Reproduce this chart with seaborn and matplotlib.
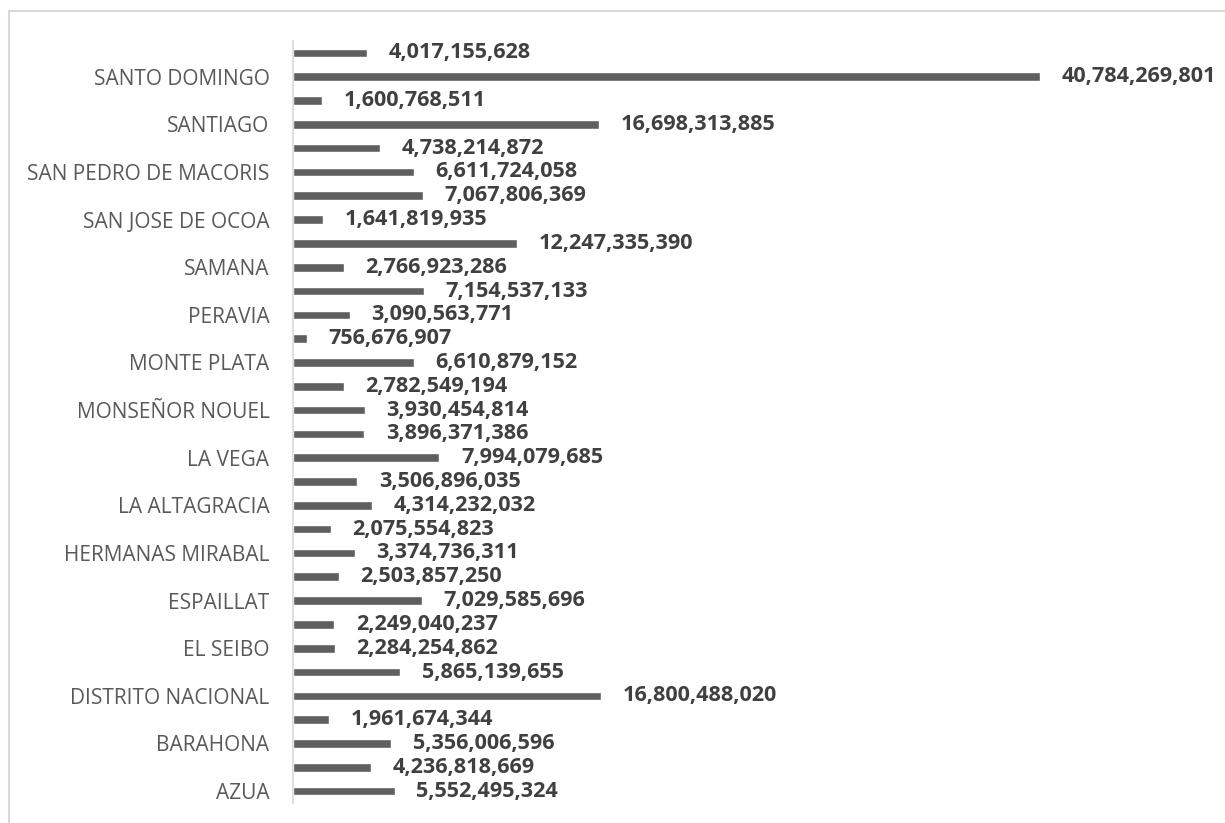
import matplotlib
matplotlib.use("Agg")
import matplotlib.pyplot as plt
import matplotlib.patches as mpatches
import seaborn as sns
import pandas as pd

# Provinces, alphabetical (bottom to top on the chart)
provinces = [
    "AZUA", "BAHORUCO", "BARAHONA", "DAJABON", "DISTRITO NACIONAL", "DUARTE",
    "EL SEIBO", "ELIAS PIÑA", "ESPAILLAT", "HATO MAYOR", "HERMANAS MIRABAL",
    "INDEPENDENCIA", "LA ALTAGRACIA", "LA ROMANA", "LA VEGA",
    "MARIA TRINIDAD SANCHEZ", "MONSEÑOR NOUEL", "MONTE CRISTI", "MONTE PLATA",
    "PEDERNALES", "PERAVIA", "PUERTO PLATA", "SAMANA", "SAN CRISTOBAL",
    "SAN JOSE DE OCOA", "SAN JUAN", "SAN PEDRO DE MACORIS", "SANCHEZ RAMIREZ",
    "SANTIAGO", "SANTIAGO RODRIGUEZ", "SANTO DOMINGO", "VALVERDE",
]

amounts = [
    5552495324, 4236818669, 5356006596, 1961674344, 16800488020, 5865139655,
    2284254862, 2249040237, 7029585696, 2503857250, 3374736311,
    2075554823, 4314232032, 3506896035, 7994079685,
    3896371386, 3930454814, 2782549194, 6610879152,
    756676907, 3090563771, 7154537133, 2766923286, 12247335390,
    1641819935, 7067806369, 6611724058, 4738214872,
    16698313885, 1600768511, 40784269801, 4017155628,
]

# Category axis only shows every other province name
shown_labels = provinces[0::2]

df = pd.DataFrame({"provincia": provinces[::-1], "monto": amounts[::-1]})

sns.set_theme(style="white")
plt.rcParams["font.family"] = ["Open Sans", "DejaVu Sans"]

W, H = 1225, 823
fig = plt.figure(figsize=(W / 100, H / 100), dpi=100)
ax = fig.add_axes([293 / W, 1 - 803 / H, (1200 - 293) / W, (803 - 41) / H])

sns.barplot(data=df, y="provincia", x="monto", orient="h", order=df["provincia"],
            color="#5f5f5f", saturation=1, width=0.36, ax=ax)

ax.set_xlim(0, 49.5e9)
ax.set_ylim(len(provinces) - 0.5, -0.5)
ax.set_xlabel("")
ax.set_ylabel("")
ax.set_xticks([])

order = list(df["provincia"])
ax.set_yticks([order.index(p) for p in shown_labels])
ax.set_yticklabels(shown_labels, fontsize=15, color="#595959")
ax.tick_params(axis="y", length=0, pad=17)

for s in ["top", "right", "bottom"]:
    ax.spines[s].set_visible(False)
ax.spines["left"].set_color("#d9d9d9")
ax.spines["left"].set_linewidth(1.2)

# Value labels to the right of each bar
for i, v in enumerate(df["monto"]):
    ax.annotate(f"{v:,}", xy=(v, i), xytext=(15.5, 0), textcoords="offset points",
                ha="left", va="center", fontsize=15.6, fontweight="bold",
                color="#404040", family=["Open Sans", "DejaVu Sans"])

# Chart-area frame
fig.patches.append(mpatches.Rectangle((9 / W, -0.1), 1.2, 1 - 11 / H + 0.1,
                                      transform=fig.transFigure, fill=False,
                                      edgecolor="#d9d9d9", linewidth=1.5))

fig.savefig("out.png", dpi=100)
